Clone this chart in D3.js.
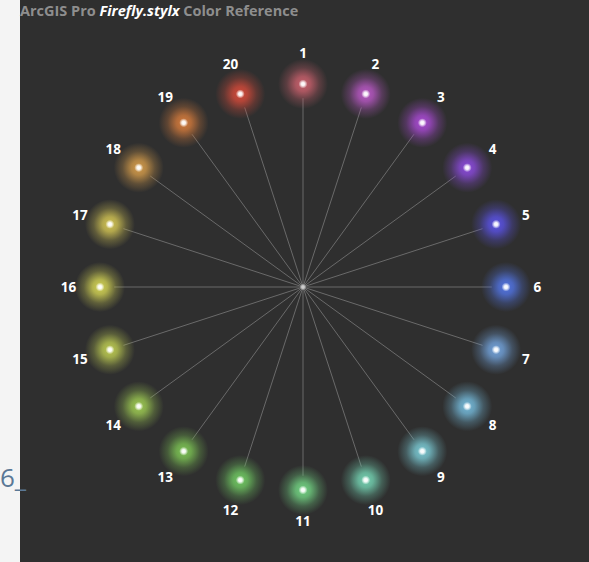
<!DOCTYPE html>
<html lang="en">
<head>
    <meta charset="UTF-8">
    <title>Firefly Color Reference</title>
    <script src="https://cdn.jsdelivr.net/npm/d3@7"></script>
    <style>
        body { margin: 0; background: #f4f4f4; }
    </style>
</head>
<body>
    <script>
        // color index labels
        var ids = ["1","2","3","4","5","6","7","8","9","10","11","12","13","14","15","16","17","18","19","20"];
        // glow colors
        var colors = ["#c8606c","#b858c4","#a84ad2","#8a4ada","#5a52e2","#5274e2","#72a2da","#74b8d8","#7ac8d2","#74d2b2",
                      "#72d282","#70c862","#7cc254","#9cc852","#bcca52","#d2d254","#d2c454","#d29a4a","#d27a3c","#d24a3a"];

        var width = 589, height = 562;
        var cx = 303, cy = 287;

        var svg = d3.select("body").append("svg")
            .attr("width", width)
            .attr("height", height);

        var defs = svg.append("defs");
        colors.forEach(function (c, i) {
            var g = defs.append("radialGradient").attr("id", "glow" + i);
            g.append("stop").attr("offset", "0%").attr("stop-color", c).attr("stop-opacity", 1);
            g.append("stop").attr("offset", "30%").attr("stop-color", c).attr("stop-opacity", 0.8);
            g.append("stop").attr("offset", "65%").attr("stop-color", c).attr("stop-opacity", 0.3);
            g.append("stop").attr("offset", "100%").attr("stop-color", c).attr("stop-opacity", 0);
        });
        var core = defs.append("radialGradient").attr("id", "core");
        core.append("stop").attr("offset", "0%").attr("stop-color", "#fff").attr("stop-opacity", 1);
        core.append("stop").attr("offset", "40%").attr("stop-color", "#fff").attr("stop-opacity", 0.9);
        core.append("stop").attr("offset", "100%").attr("stop-color", "#fff").attr("stop-opacity", 0);

        // dark panel
        svg.append("rect")
            .attr("x", 20).attr("y", 0)
            .attr("width", width - 20).attr("height", height)
            .attr("fill", "#2f2f2f");

        // stray text on the left margin
        svg.append("text")
            .attr("x", 0).attr("y", 487)
            .attr("font-family", "Open Sans, sans-serif")
            .attr("font-size", 26)
            .attr("fill", "#5a7896")
            .text("6_");

        // title
        var title = svg.append("text")
            .attr("x", 20).attr("y", 16)
            .attr("font-family", "Open Sans, sans-serif")
            .attr("font-size", 14.5)
            .attr("font-weight", "bold")
            .attr("fill", "#8e8e8e");
        title.append("tspan").text("ArcGIS Pro ");
        title.append("tspan").attr("fill", "#ffffff").attr("font-style", "italic").text("Firefly.stylx");
        title.append("tspan").text(" Color Reference");

        var angle = d3.scaleLinear().domain([0, ids.length]).range([0, 2 * Math.PI]);
        var r = d3.scaleLinear().domain([0, 1]).range([0, 203]);

        function px(i, k) { return cx + r(k) * Math.sin(angle(i)); }
        function py(i, k) { return cy - r(k) * Math.cos(angle(i)); }

        // spokes
        svg.selectAll("line.spoke")
            .data(ids)
            .enter().append("line")
            .attr("class", "spoke")
            .attr("x1", cx).attr("y1", cy)
            .attr("x2", function (d, i) { return px(i, 0.93); })
            .attr("y2", function (d, i) { return py(i, 0.93); })
            .attr("stroke", "#6a6a6a")
            .attr("stroke-width", 1);

        // center dot
        svg.append("circle").attr("cx", cx).attr("cy", cy).attr("r", 3.5).attr("fill", "url(#core)").attr("opacity", 0.7);

        // glowing points
        svg.selectAll("circle.glow")
            .data(ids)
            .enter().append("circle")
            .attr("class", "glow")
            .attr("cx", function (d, i) { return px(i, 1); })
            .attr("cy", function (d, i) { return py(i, 1); })
            .attr("r", 25)
            .attr("fill", function (d, i) { return "url(#glow" + i + ")"; });

        svg.selectAll("circle.core")
            .data(ids)
            .enter().append("circle")
            .attr("class", "core")
            .attr("cx", function (d, i) { return px(i, 1); })
            .attr("cy", function (d, i) { return py(i, 1); })
            .attr("r", 4.5)
            .attr("fill", "url(#core)");

        // labels
        svg.selectAll("text.lab")
            .data(ids)
            .enter().append("text")
            .attr("class", "lab")
            .attr("x", function (d, i) { return px(i, 1.155); })
            .attr("y", function (d, i) { return py(i, 1.155); })
            .attr("text-anchor", "middle")
            .attr("dominant-baseline", "central")
            .attr("font-family", "Open Sans, sans-serif")
            .attr("font-weight", "bold")
            .attr("font-size", 13.5)
            .attr("fill", "#ffffff")
            .text(function (d) { return d; });
    </script>
</body>
</html>
